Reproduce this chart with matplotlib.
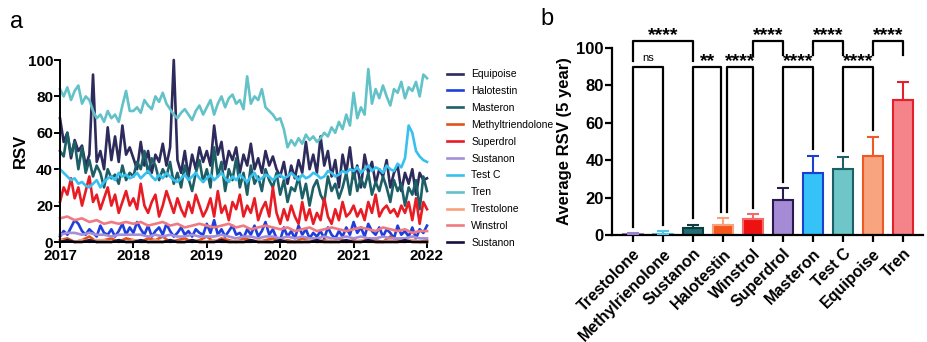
import matplotlib
matplotlib.use("Agg")
import matplotlib.pyplot as plt
import numpy as np

plt.rcParams["font.family"] = ["Liberation Sans", "DejaVu Sans"]

# ---- panel a: weekly-ish RSV traces (20 pts / year) ----
tren = [84, 80, 85, 78, 83, 86, 76, 80, 78, 72, 68, 70, 66, 72, 68, 70, 66, 75, 83, 72,
        72, 74, 71, 78, 75, 73, 80, 77, 82, 76, 73, 70, 68, 71, 73, 70, 67, 72, 75, 70,
        74, 78, 70, 76, 80, 74, 79, 81, 76, 78, 73, 91, 76, 80, 78, 84, 74, 72, 70, 67,
        68, 62, 52, 56, 53, 57, 54, 59, 56, 58, 55, 57, 60, 58, 63, 60, 66, 62, 70, 64,
        82, 68, 74, 70, 95, 76, 84, 79, 86, 80, 75, 84, 82, 88, 79, 85, 83, 88, 80, 92,
        90]
equipoise = [68, 55, 60, 46, 56, 50, 53, 42, 48, 92, 44, 50, 40, 63, 45, 58, 44, 64, 48, 52,
             46, 40, 55, 42, 50, 38, 48, 44, 54, 42, 52, 100, 45, 38, 50, 36, 48, 40, 52, 44,
             50, 42, 64, 48, 55, 40, 50, 45, 52, 38, 48, 42, 54, 40, 46, 38, 50, 42, 47, 40,
             36, 44, 32, 42, 35, 45, 38, 55, 40, 48, 38, 58, 42, 50, 36, 45, 30, 48, 38, 52,
             35, 42, 30, 48, 38, 44, 32, 40, 36, 45, 30, 38, 42, 28, 38, 32, 40, 26, 38, 34,
             35]
masteron = [50, 47, 60, 48, 55, 40, 52, 38, 45, 36, 42, 38, 30, 40, 35, 37, 32, 42, 34, 38,
            36, 44, 40, 50, 38, 46, 42, 34, 40, 36, 44, 32, 38, 30, 42, 35, 28, 38, 45, 33,
            40, 30, 52, 36, 44, 28, 40, 34, 46, 30, 38, 26, 42, 32, 36, 28, 40, 34, 30, 38,
            26, 34, 22, 30, 28, 36, 24, 32, 20, 30, 34, 26, 22, 36, 28, 32, 24, 30, 38, 26,
            40, 28, 35, 30, 38, 26, 33, 28, 36, 30, 22, 34, 28, 32, 20, 30, 26, 34, 18, 36,
            28]
test_c = [40, 38, 36, 34, 35, 32, 33, 31, 30, 32, 34, 30, 33, 35, 36, 34, 38, 36, 37, 35,
          36, 38, 35, 37, 39, 36, 34, 37, 35, 38, 36, 34, 33, 35, 37, 34, 36, 38, 35, 33,
          35, 37, 34, 36, 38, 35, 33, 36, 34, 37, 35, 33, 36, 38, 34, 35, 37, 36, 34, 36,
          37, 35, 36, 38, 36, 34, 37, 35, 36, 38, 37, 35, 36, 39, 38, 36, 37, 39, 38, 40,
          39, 41, 38, 40, 42, 39, 41, 40, 38, 42, 40, 39, 43, 41, 46, 64, 60, 50, 47, 45,
          44]
superdrol = [22, 30, 26, 35, 24, 30, 20, 28, 36, 22, 26, 18, 24, 30, 20, 26, 16, 22, 28, 20,
             24, 18, 32, 20, 16, 22, 26, 14, 20, 28, 22, 16, 24, 18, 14, 22, 16, 26, 20, 14,
             18, 24, 14, 28, 16, 20, 12, 22, 18, 26, 14, 20, 16, 24, 12, 18, 22, 14, 30, 16,
             10, 18, 12, 20, 14, 10, 22, 12, 18, 10, 16, 12, 24, 14, 10, 18, 12, 22, 14, 16,
             20, 14, 18, 12, 22, 16, 26, 14, 18, 20, 16, 18, 14, 20, 16, 22, 12, 24, 10, 22,
             18]
halotestin = [3, 6, 4, 8, 12, 10, 6, 4, 7, 5, 3, 9, 5, 4, 7, 3, 6, 10, 4, 8,
              5, 11, 7, 4, 9, 3, 6, 8, 4, 10, 6, 3, 5, 8, 4, 6, 3, 7, 5, 4,
              10, 5, 12, 4, 7, 3, 6, 9, 4, 5, 2, 7, 4, 9, 3, 6, 11, 4, 7, 2,
              1, 8, 3, 6, 2, 9, 4, 7, 2, 5, 3, 6, 2, 8, 4, 2, 6, 3, 8, 4,
              11, 5, 8, 3, 10, 6, 4, 8, 3, 7, 5, 2, 9, 4, 6, 3, 8, 2, 7, 5,
              9]
# lower traces, 10 pts / year
winstrol = [13, 14, 12, 13, 11, 12, 10, 11, 10, 11, 10, 11, 9, 10, 11, 9, 10, 8, 9, 10,
            9, 8, 9, 10, 8, 9, 7, 8, 9, 8, 7, 8, 6, 7, 8, 6, 7, 8, 7, 6,
            7, 8, 7, 6, 8, 7, 6, 7, 5, 6, 6]
sustanon = [4, 5, 5, 4, 5, 4, 4, 3, 4, 4, 4, 4, 3, 4, 3, 4, 3, 3, 4, 3,
            3, 3, 4, 3, 2, 3, 3, 2, 3, 3, 2, 3, 2, 3, 2, 2, 3, 2, 2, 3,
            2, 3, 2, 2, 3, 2, 2, 2, 3, 2, 2]
methyltriendolone = [1, 2, 0, 1, 3, 0, 1, 2, 0, 2, 1, 0, 2, 1, 3, 0, 1, 2, 0, 1,
                     3, 0, 2, 1, 0, 2, 1, 0, 1, 2, 0, 1, 0, 2, 1, 0, 1, 0, 2, 0,
                     1, 0, 2, 1, 0, 3, 1, 0, 1, 0, 1]
trestolone = [1, 1, 0, 1, 0, 1, 1, 0, 1, 0, 1, 0, 0, 1, 0, 1, 0, 0, 1, 0,
              0, 1, 0, 0, 1, 0, 0, 1, 0, 0, 1, 0, 0, 0, 1, 0, 0, 1, 0, 0,
              0, 1, 0, 0, 0, 1, 0, 0, 1, 0, 0]
sustanon_2 = [0, 1, 0, 0, 1, 0, 0, 0, 1, 0, 0, 1, 0, 0, 0, 1, 0, 0, 1, 0,
              0, 0, 1, 0, 0, 0, 1, 0, 0, 0, 1, 0, 0, 0, 0, 1, 0, 0, 0, 1,
              0, 0, 1, 0, 0, 0, 0, 1, 0, 0, 0]

series = [("Equipoise", equipoise, "#2d2a5c"),
          ("Halotestin", halotestin, "#1f3fdc"),
          ("Masteron", masteron, "#1d5f66"),
          ("Methyltriendolone", methyltriendolone, "#e2521c"),
          ("Superdrol", superdrol, "#e81c24"),
          ("Sustanon", sustanon, "#a58fd8"),
          ("Test C", test_c, "#38c0ef"),
          ("Tren", tren, "#63c2c8"),
          ("Trestolone", trestolone, "#f7a07a"),
          ("Winstrol", winstrol, "#ef7a82"),
          ("Sustanon", sustanon_2, "#141040")]

# ---- panel b: 5-year averages ----
drugs = ["Trestolone", "Methylrienolone", "Sustanon", "Halotestin", "Winstrol",
         "Superdrol", "Masteron", "Test C", "Equipoise", "Tren"]
avg_rsv = [0.5, 0.7, 3.5, 5.5, 8.5, 18.5, 33, 35.5, 42, 72]
sd_rsv = [0.5, 1.3, 2.0, 3.5, 2.5, 6.5, 9.5, 6.0, 10.5, 10]
fills = ["#c7b2e6", "#a8e6f2", "#1f6e74", "#f4561c", "#ee1111",
         "#a58ad6", "#35c2f8", "#6ec6c9", "#f7a47f", "#f5838a"]
edges = ["#9a82cc", "#52c6e6", "#0e3c40", "#f9a27a", "#f46a6a",
         "#2b1a4f", "#1b3fd0", "#1d5f66", "#ee5a26", "#e3202c"]
# comparisons: (i, j, label, level)
comparisons = [(0, 1, "ns", "low"), (2, 3, "**", "low"), (3, 4, "****", "low"),
               (5, 6, "****", "low"), (7, 8, "****", "low"),
               (0, 2, "****", "high"), (4, 5, "****", "high"),
               (6, 7, "****", "high"), (8, 9, "****", "high")]

fig = plt.figure(figsize=(9.28, 3.42), dpi=100)

# panel a
ax = fig.add_axes([60 / 928, 1 - 242 / 342, 367 / 928, 182 / 342])
for name, vals, col in series:
    x = np.linspace(2017, 2022, len(vals))
    ax.plot(x, vals, color=col, lw=1.9, label=name, clip_on=False)
ax.set_xlim(2017, 2022)
ax.set_ylim(0, 100)
ax.set_xticks([2017, 2018, 2019, 2020, 2021, 2022])
ax.set_yticks([0, 20, 40, 60, 80, 100])
ax.set_ylabel("RSV", fontsize=12, fontweight="bold", labelpad=0)
for lab in ax.get_xticklabels() + ax.get_yticklabels():
    lab.set_fontweight("bold")
ax.tick_params(labelsize=11, width=1.4, length=4, pad=1)
for s in ["top", "right"]:
    ax.spines[s].set_visible(False)
ax.spines["left"].set_linewidth(1.4)
ax.spines["bottom"].set_linewidth(1.4)
fig.legend(loc="upper left", bbox_to_anchor=(443 / 928, 1 - 65 / 342),
           frameon=False, fontsize=7.5, handlelength=1.5, labelspacing=0.66,
           handletextpad=0.8, borderaxespad=0)
fig.text(10 / 928, 1 - 22 / 342, "a", fontsize=17, va="center", ha="left")

# panel b
bx = fig.add_axes([612 / 928, 1 - 235 / 342, 311 / 928, 187 / 342])
pos = np.arange(len(drugs))
bx.bar(pos, avg_rsv, width=0.66, color=fills, edgecolor=edges, linewidth=1.5, zorder=2)
for p, v, e, c in zip(pos, avg_rsv, sd_rsv, edges):
    bx.errorbar(p, v, yerr=[[0], [e]], color=c, capsize=4, elinewidth=1.5,
                capthick=1.5, zorder=3)
bx.set_xlim(-0.7, 9.67)
bx.set_ylim(0, 100)
bx.set_yticks([0, 20, 40, 60, 80, 100])
bx.set_xticks(pos)
bx.set_xticklabels(drugs, rotation=45, ha="right", rotation_mode="anchor",
                   fontweight="bold", fontsize=11.5)
for lab in bx.get_yticklabels():
    lab.set_fontweight("bold")
bx.tick_params(axis="y", labelsize=12, width=1.6, length=5, pad=1)
bx.tick_params(axis="x", width=1.6, length=5, pad=3)
bx.set_ylabel("Average RSV (5 year)", fontsize=12, fontweight="bold", labelpad=3)
for s in ["top", "right"]:
    bx.spines[s].set_visible(False)
bx.spines["left"].set_linewidth(1.6)
bx.spines["bottom"].set_linewidth(1.6)

tops = [v + e for v, e in zip(avg_rsv, sd_rsv)]
for i, j, lab, level in comparisons:
    if level == "low":
        y = 90
        b1, b2 = tops[i] + 3.5, tops[j] + 3.5
    else:
        y = 104
        b1 = max(tops[i] + 3.5, 93 if i == 0 else 96)
        b2 = max(tops[j] + 3.5, 93 if i == 0 else 96)
    xi, xj = pos[i], pos[j]
    if level == "low" and i == 3:
        xi = xi + 0.15
    if level == "low" and j == 3:
        xj = xj - 0.05
    bx.plot([xi, xi, xj, xj], [b1, y, y, b2], color="black", lw=1.6,
            clip_on=False, zorder=4)
    if lab == "ns":
        bx.text((xi + xj) / 2, y + 2.0, lab, ha="center", va="bottom", fontsize=8)
    else:
        bx.text((xi + xj) / 2, y - 1.8, lab, ha="center", va="bottom",
                fontsize=14, fontweight="bold")
fig.text(540 / 928, 1 - 19 / 342, "b", fontsize=17, va="center", ha="left")

fig.savefig("out.png", dpi=100)
